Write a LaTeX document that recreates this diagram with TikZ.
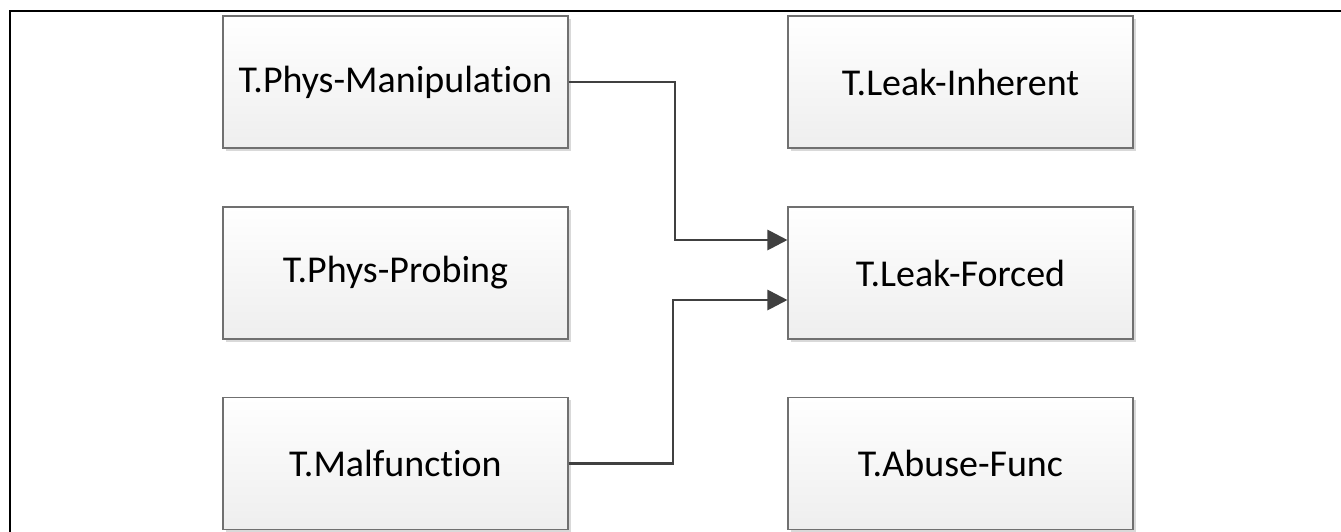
\documentclass[tikz,border=0pt]{standalone}
\usepackage{fontspec}
\setmainfont{Carlito}[Ligatures=NoCommon]
\usetikzlibrary{arrows.meta,shadows}
\definecolor{Edge}{RGB}{112, 112, 112}
\definecolor{Wire}{RGB}{64, 64, 64}
\definecolor{Low}{RGB}{238, 238, 238}

\begin{document}
\begin{tikzpicture}[
		threat/.style={draw=Edge, line width=0.6pt, top color=white, bottom color=Low,
			minimum width=6.9cm, minimum height=2.64cm, inner sep=0pt,
			font=\fontsize{21.6}{25}\selectfont,
			drop shadow={shadow xshift=0.05cm, shadow yshift=-0.05cm, fill=black!15, opacity=1}},
		wire/.style={draw=Wire, line width=1.6pt, -{Triangle[length=0.4cm, width=0.4cm]}}
	]
	\useasboundingbox (0, 0) rectangle (26.82, -10.62);
	\draw[line width=1.2pt] (0.2, -10.7) -- (0.2, -0.22) -- (26.9, -0.22);
	% left column
	\node[threat] (manip) at (7.91, -1.64) {T.Phys-Manipulation};
	\node[threat] (probe) at (7.91, -5.46) {T.Phys-Probing};
	\node[threat] (malf) at (7.91, -9.27) {T.Malfunction};
	% right column
	\node[threat] (inher) at (19.21, -1.64) {T.Leak-Inherent};
	\node[threat] (forced) at (19.21, -5.46) {T.Leak-Forced};
	\node[threat] (abuse) at (19.21, -9.27) {T.Abuse-Func};
	\coordinate (in1) at ([yshift=0.66cm]forced.west);
	\coordinate (in2) at ([yshift=-0.54cm]forced.west);
	\coordinate (bend1) at (13.5, -3);
	\coordinate (bend2) at (13.46, -8);
	\draw[wire] (manip.east) -| (bend1) |- (in1);
	\draw[wire] (malf.east) -| (bend2) |- (in2);
\end{tikzpicture}
\end{document}
